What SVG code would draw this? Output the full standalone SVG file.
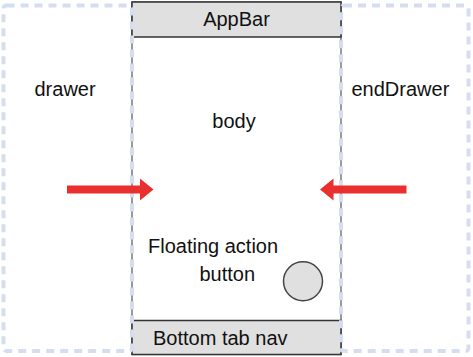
<svg xmlns="http://www.w3.org/2000/svg" width="473" height="357" viewBox="0 0 473 357">
<style>
text{font-family:"Liberation Sans",Arial,sans-serif;font-size:20px;fill:#111}
.bar{fill:#e0e0e0;stroke:#333;stroke-width:1.5}
.drawer{fill:none;stroke:#d5ddef;stroke-width:4;stroke-dasharray:8 6}
.arrow{fill:#e9302e}
</style>
<rect width="473" height="357" fill="#fff"/>
<g id="phone">
<rect x="132" y="2" width="209" height="352.5" fill="#fff" stroke="#555" stroke-width="1.2"/>
</g>
<g id="appbar">
<rect class="bar" x="132" y="2" width="209" height="35"/>
<text x="236.5" y="25.5" text-anchor="middle">AppBar</text>
</g>
<g id="bottomnav">
<rect class="bar" x="132" y="320.5" width="209" height="34"/>
<text x="153" y="345">Bottom tab nav</text>
</g>
<g id="drawer">
<rect class="drawer" x="3.5" y="5.5" width="128.5" height="345.5" rx="3"/>
<text x="34.5" y="95.5">drawer</text>
</g>
<g id="endDrawer">
<rect class="drawer" x="341" y="5.5" width="127.5" height="345.5" rx="3"/>
<text x="351.5" y="95.5">endDrawer</text>
</g>
<g id="body">
<text x="234" y="127.5" text-anchor="middle">body</text>
</g>
<g id="fab">
<text x="148" y="253">Floating action</text>
<text x="199.5" y="281">button</text>
<circle cx="303" cy="281.2" r="19.5" fill="#e0e0e0" stroke="#444" stroke-width="1.5"/>
</g>
<g id="connectors">
<path class="arrow" d="M67 185.5H140V178.5L153.5 189.5L140 200.5V193.5H67Z"/>
<path class="arrow" d="M406.5 185.5H333.5V178.5L320 189.5L333.5 200.5V193.5H406.5Z"/>
</g>
</svg>
